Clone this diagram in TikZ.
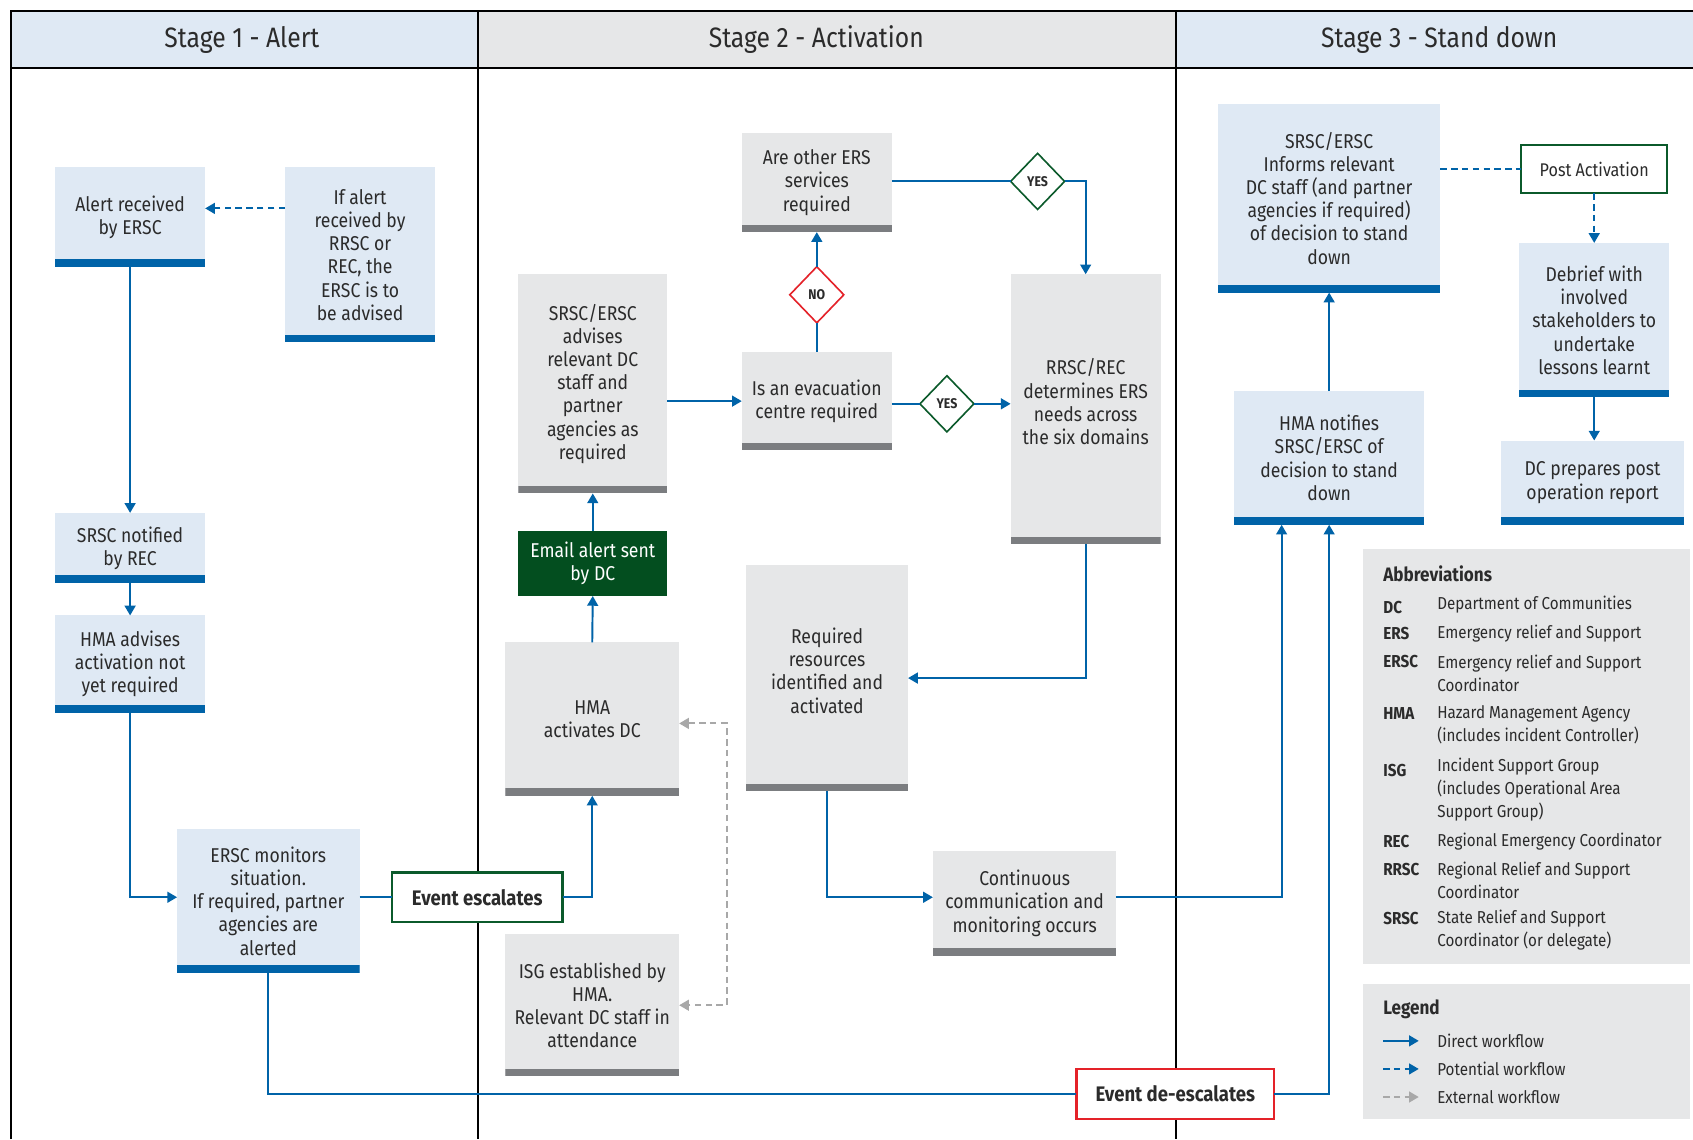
\documentclass[tikz,border=0pt]{standalone}
\usepackage{fontspec}
\setmainfont{Fira Sans}[FakeStretch=0.88]
\usetikzlibrary{arrows.meta,shapes.geometric,calc}
\definecolor{lblue}{HTML}{DFE9F4}
\definecolor{lgray}{HTML}{E6E7E8}
\definecolor{dgray}{HTML}{7B7D80}
\definecolor{dblue}{HTML}{0063A8}
\definecolor{dgreen}{HTML}{034E1F}
\definecolor{bgreen}{HTML}{0B5A2B}
\definecolor{nored}{HTML}{E42229}
\definecolor{txt}{HTML}{2B2B2B}
\definecolor{extgray}{HTML}{A8A8A8}
\begin{document}
\begin{tikzpicture}[x=1pt,y=-1pt,
  box/.style={inner sep=0pt,outer sep=0pt,align=center,text=txt,font=\fontsize{18.5}{21.5}\selectfont},
  sz/.style 2 args={minimum width=#1pt,minimum height=#2pt},
  bbox/.style={box,fill=lblue,path picture={\fill[dblue] (path picture bounding box.south west) rectangle ([yshift=7pt]path picture bounding box.south east);}},
  gbox/.style={box,fill=lgray,path picture={\fill[dgray] (path picture bounding box.south west) rectangle ([yshift=7pt]path picture bounding box.south east);}},
  evbox/.style={box,fill=white,line width=2pt,font=\bfseries\fontsize{19.5}{22}\selectfont},
  dia/.style={diamond,draw=#1,line width=1.5pt,fill=white,minimum width=50pt,minimum height=52pt,inner sep=0pt,outer sep=0pt,text=txt,font=\bfseries\fontsize{13}{14}\selectfont},
  flowline/.style={draw=dblue,line width=1.8pt},
  flow/.style={flowline,-{Triangle[length=9pt,width=10pt]}},
  pline/.style={flowline,dash pattern=on 6pt off 4pt},
  pflow/.style={pline,-{Triangle[length=9pt,width=10pt]}},
  xflow/.style={draw=extgray,line width=1.8pt,dash pattern=on 6pt off 4pt,{Triangle[length=9pt,width=10pt]}-{Triangle[length=9pt,width=10pt]}},
  hdr/.style={text=txt,font=\fontsize{26}{30}\selectfont},
  abk/.style={anchor=west,inner sep=0pt,text=txt,font=\bfseries\fontsize{16}{21.5}\selectfont},
  abd/.style={anchor=west,inner sep=0pt,align=left,text=txt,font=\fontsize{16}{21.5}\selectfont},
]
\useasboundingbox (0,0) rectangle (1568,1055);
\fill[white] (0,0) rectangle (1568,1055);
% headers
\fill[lblue] (10,10) rectangle (443,63);
\fill[lgray] (443,10) rectangle (1089,63);
\fill[lblue] (1089,10) rectangle (1568,63);
\draw[line width=2pt] (10,1055) -- (10,10) -- (1568,10);
\draw[line width=2pt] (10,63) -- (1568,63);
\draw[line width=2pt] (443,10) -- (443,1055);
\draw[line width=2pt] (1089,10) -- (1089,1055);
\node[hdr] (h1) at (224,37) {Stage 1 - Alert};
\node[hdr] (h2) at (756,37) {Stage 2 - Activation};
\node[hdr] (h3) at (1333,37) {Stage 3 - Stand down};

% Stage 1
\node[bbox,sz={139}{92}] (alert) at (120.5,201) {Alert received\\by ERSC};
\node[bbox,sz={139}{162}] (ifalert) at (333.5,236) {If alert\\received by\\RRSC or\\REC, the\\ERSC is to\\be advised};
\node[bbox,sz={139}{65}] (srscn) at (120.5,507.5) {SRSC notified\\by REC};
\node[bbox,sz={139}{90}] (hmaadv) at (120.5,615) {HMA advises\\activation not\\yet required};
\node[bbox,sz={169}{133}] (ersc) at (248.5,834.5) {ERSC monitors\\situation.\\If required, partner\\agencies are\\alerted};
\node[evbox,draw=bgreen,sz={158}{46}] (esc) at (442,831) {Event escalates};
\node[evbox,draw=nored,sz={183}{46}] (deesc) at (1088.5,1013) {Event de-escalates};

% Stage 2
\node[gbox,sz={138}{203}] (advises) at (549,355.5) {SRSC/ERSC\\advises\\relevant DC\\staff and\\partner\\agencies as\\required};
\node[box,fill=dgreen,text=white,sz={138}{60}] (email) at (549,522) {Email alert sent\\by DC};
\node[gbox,sz={161}{142}] (hmaact) at (548.5,666) {HMA\\activates DC};
\node[gbox,sz={161}{132}] (isg) at (548.5,931) {ISG established by\\HMA.\\Relevant DC staff in\\attendance};
\node[gbox,sz={139}{91}] (evac) at (756.5,371.5) {Is an evacuation\\centre required};
\node[gbox,sz={139}{92}] (other) at (756.5,169) {Are other ERS\\services\\required};
\node[dia=nored] (no) at (756.5,273) {NO};
\node[dia=bgreen] (yes1) at (961,168) {YES};
\node[dia=bgreen] (yes2) at (877,374) {YES};
\node[gbox,sz={139}{250}] (rrsc) at (1005.5,379) {RRSC/REC\\determines ERS\\needs across\\the six domains\\[-7.5pt]\mbox{}};
\node[gbox,sz={150}{210}] (req) at (766,628) {Required\\resources\\identified and\\activated\\[-7.5pt]\mbox{}};
\node[gbox,sz={170}{97}] (cont) at (949,836.5) {Continuous\\communication and\\monitoring occurs};

% Stage 3
\node[bbox,sz={206}{175}] (inform) at (1231,183.5) {SRSC/ERSC\\Informs relevant\\DC staff (and partner\\agencies if required)\\of decision to stand\\down};
\node[bbox,sz={176}{124}] (hmanot) at (1231,424) {HMA notifies\\SRSC/ERSC of\\decision to stand\\down};
\node[box,fill=white,draw=bgreen,line width=2pt,sz={135}{45},font=\fontsize{17}{20}\selectfont] (post) at (1476.5,156.5) {Post Activation};
\node[bbox,sz={139}{143}] (debrief) at (1476.5,296.5) {Debrief with\\involved\\stakeholders to\\undertake\\lessons learnt};
\node[bbox,sz={170}{78}] (dcprep) at (1475,447) {DC prepares post\\operation report};

% helper coordinates
\coordinate (yA) at (0,193);
\coordinate (ext1) at (673,670);
\coordinate (ext2) at (673,931);
\coordinate (xC) at (1187,0);

% connectors
\draw[pflow] (ifalert.west |- yA) -- (alert.east |- yA);
\draw[flow] (alert.south) -- (srscn.north);
\draw[flow] (srscn.south) -- (hmaadv.north);
\draw[flow] (hmaadv.south) |- (ersc.west |- esc.west);
\draw[flowline] (ersc.east |- esc.west) -- (esc.west);
\draw[flow] (esc.east) -| (hmaact.south);
\draw[flowline] (ersc.south) |- (deesc.west);
\draw[flow] (deesc.east) -| (hmanot.south);
\draw[flow] (hmaact.north) -- (email.south);
\draw[flow] (email.north) -- (advises.south);
\draw[flow] (advises.east |- evac.west) -- (evac.west);
\draw[flowline] (evac.north) -- (no.south);
\draw[flow] (no.north) -- (other.south);
\draw[flowline] (other.east |- yes1.west) -- (yes1.west);
\draw[flow] (yes1.east) -| (rrsc.north);
\draw[flowline] (evac.east |- yes2.west) -- (yes2.west);
\draw[flow] (yes2.east) -- (rrsc.west |- yes2.east);
\draw[flow] (rrsc.south) |- (req.east);
\draw[flow] (req.south) |- (cont.west |- esc.east);
\draw[flow] (cont.east |- esc.east) -| (xC |- hmanot.south);
\draw[flow] (hmanot.north) -- (inform.south);
\draw[pline] (inform.east |- post.west) -- (post.west);
\draw[pflow] (post.south) -- (debrief.north);
\draw[flow] (debrief.south) -- (debrief.south |- dcprep.north);
\draw[xflow] (hmaact.east |- ext1) -- (ext1) -- (ext2) -- (isg.east |- ext2);

% Abbreviations
\fill[lgray] (1262,508) rectangle (1565,893);
\node[abk,font=\bfseries\fontsize{18}{21}\selectfont] (abt) at (1281,531) {Abbreviations};
\node[abk] (k1) at (1281,563) {DC};
\node[abd] (d1) at (1331,560) {Department of Communities};
\node[abk] (k2) at (1281,587) {ERS};
\node[abd] (d2) at (1331,587) {Emergency relief and Support};
\node[abk] (k3) at (1281,613) {ERSC};
\node[abd] (d3) at (1331,624) {Emergency relief and Support\\Coordinator};
\node[abk] (k4) at (1281,661) {HMA};
\node[abd] (d4) at (1331,671.5) {Hazard Management Agency\\(includes incident Controller)};
\node[abk] (k5) at (1281,714) {ISG};
\node[abd] (d5) at (1331,731.5) {Incident Support Group\\(includes Operational Area\\Support Group)};
\node[abk] (k6) at (1281,779) {REC};
\node[abd] (d6) at (1331,779) {Regional Emergency Coordinator};
\node[abk] (k7) at (1281,805) {RRSC};
\node[abd] (d7) at (1331,815.5) {Regional Relief and Support\\Coordinator};
\node[abk] (k8) at (1281,851) {SRSC};
\node[abd] (d8) at (1331,861.5) {State Relief and Support\\Coordinator (or delegate)};

% Legend
\fill[lgray] (1262,911) rectangle (1565,1036);
\node[abk,font=\bfseries\fontsize{18}{21}\selectfont] (lt) at (1281,935) {Legend};
\coordinate (l1a) at (1281,964); \coordinate (l1b) at (1314,964);
\coordinate (l2a) at (1281,990); \coordinate (l2b) at (1314,990);
\coordinate (l3a) at (1281,1016); \coordinate (l3b) at (1314,1016);
\draw[flow] (l1a) -- (l1b);
\draw[pflow] (l2a) -- (l2b);
\draw[draw=extgray,line width=1.8pt,dash pattern=on 6pt off 4pt,-{Triangle[length=9pt,width=10pt]}] (l3a) -- (l3b);
\node[abd] (lg1) at (1331,964) {Direct workflow};
\node[abd] (lg2) at (1331,990) {Potential workflow};
\node[abd] (lg3) at (1331,1016) {External workflow};
\end{tikzpicture}
\end{document}
